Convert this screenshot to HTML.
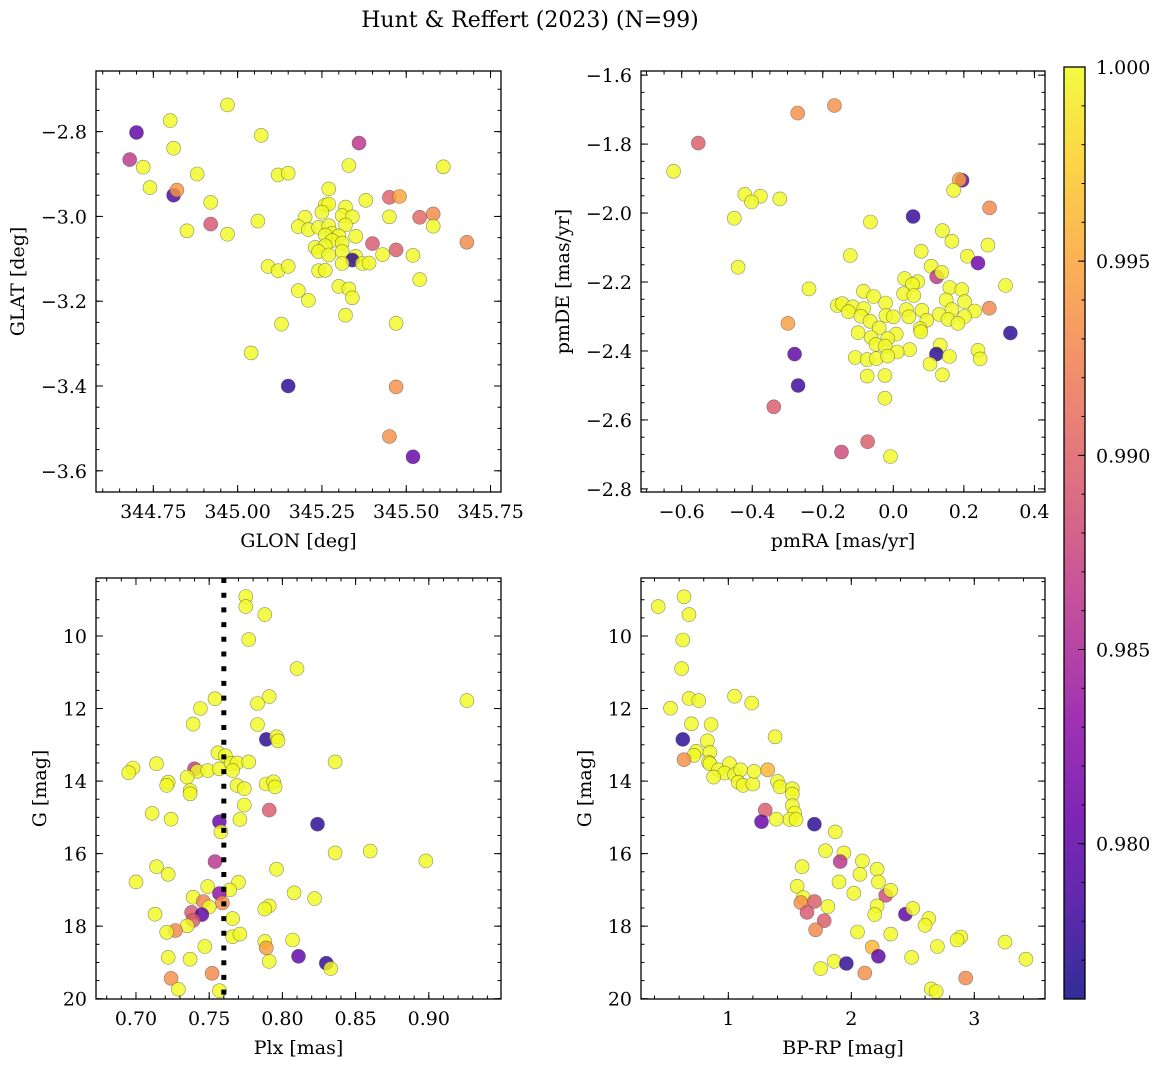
<!DOCTYPE html>
<html><head><meta charset="utf-8"><title>Hunt & Reffert (2023)</title>
<style>
html,body{margin:0;padding:0;background:#fff;}
svg{display:block;font-family:"DejaVu Serif","Liberation Serif",serif;}
</style></head>
<body>
<svg id="fig" width="1161" height="1067" viewBox="0 0 1161 1067" xmlns="http://www.w3.org/2000/svg">
<rect width="1161" height="1067" fill="#fff"/>
<text x="530" y="27" font-size="22" text-anchor="middle" fill="#000">Hunt &amp; Reffert (2023) (N=99)</text>
</svg>
<script>
// ---------- Data ----------
const glon=[344.97,344.80,344.70,345.07,345.36,344.81,344.68,344.72,345.33,345.61,344.88,345.12,345.15,344.74,344.81,344.82,345.27,345.45,345.48,345.38,344.92,345.26,345.27,345.32,345.25,345.20,345.31,345.34,345.45,345.54,345.58,345.06,344.92,345.18,345.21,345.24,345.27,345.32,345.58,344.85,344.97,345.28,345.26,345.30,345.35,345.28,345.31,345.40,345.68,345.23,345.26,345.24,345.27,345.31,345.47,345.43,345.52,345.35,345.34,345.37,345.39,345.31,345.09,345.12,345.15,345.24,345.26,345.54,345.30,345.33,345.18,345.34,345.21,345.32,345.47,345.13,345.04,345.15,345.47,345.45,345.52];
const glat=[-2.737,-2.774,-2.802,-2.809,-2.827,-2.839,-2.866,-2.884,-2.880,-2.883,-2.900,-2.902,-2.898,-2.932,-2.950,-2.938,-2.935,-2.955,-2.953,-2.962,-2.967,-2.973,-2.971,-2.978,-2.990,-3.002,-2.998,-3.001,-3.001,-3.002,-2.994,-3.011,-3.018,-3.024,-3.031,-3.026,-3.022,-3.020,-3.023,-3.034,-3.042,-3.040,-3.044,-3.046,-3.047,-3.057,-3.063,-3.064,-3.061,-3.073,-3.069,-3.083,-3.091,-3.083,-3.079,-3.090,-3.092,-3.094,-3.103,-3.111,-3.110,-3.111,-3.118,-3.128,-3.118,-3.128,-3.127,-3.149,-3.165,-3.171,-3.175,-3.192,-3.198,-3.233,-3.252,-3.254,-3.322,-3.400,-3.402,-3.519,-3.567];
const probA=[1,1,.980,1,.9862,1,.9865,1,1,1, 1,1,1,1,.9785,.994,1,.990,.995,1, 1,1,1,1,1,1,1,1,1,.9905, .993,1,.989,1,1,1,1,1,1,1, 1,1,1,1,1,1,1,.9893,.993,1, 1,1,1,1,.9897,1,1,1,.9775,1, 1,1,1,1,1,1,1,1,1,1, 1,1,1,1,1,1,1,.9772,.9935,.9935, .9805];

const pmra=[-0.271,-0.167,-0.553,-0.623,0.195,0.187,0.171,0.273,-0.421,-0.377,-0.402,-0.322,-0.451,0.056,-0.065,-0.440,-0.122,0.139,0.166,0.268,0.079,0.210,0.240,0.107,0.123,0.137,0.032,0.069,0.054,0.318,-0.239,0.160,0.194,-0.085,0.029,0.058,-0.056,0.150,0.202,-0.022,-0.159,-0.145,-0.115,0.272,-0.084,-0.127,0.037,0.081,0.166,0.231,0.130,-0.021,-0.092,0.000,0.044,0.202,-0.066,0.095,0.155,0.183,-0.040,0.076,-0.100,0.008,0.078,0.332,-0.063,-0.016,-0.049,-0.023,0.046,0.011,0.133,0.122,0.240,-0.280,-0.108,-0.074,-0.048,-0.016,0.159,0.246,0.104,-0.299,-0.074,-0.024,0.139,-0.270,-0.024,-0.339,-0.073,-0.147,-0.008];
const pmde=[-1.710,-1.688,-1.797,-1.879,-1.905,-1.903,-1.934,-1.985,-1.946,-1.951,-1.968,-1.959,-2.015,-2.010,-2.026,-2.157,-2.123,-2.051,-2.082,-2.093,-2.111,-2.125,-2.145,-2.154,-2.185,-2.172,-2.190,-2.199,-2.207,-2.210,-2.220,-2.216,-2.222,-2.227,-2.234,-2.239,-2.242,-2.252,-2.257,-2.261,-2.268,-2.263,-2.272,-2.276,-2.277,-2.286,-2.280,-2.282,-2.280,-2.284,-2.294,-2.297,-2.299,-2.301,-2.301,-2.300,-2.314,-2.311,-2.308,-2.320,-2.333,-2.335,-2.347,-2.351,-2.344,-2.348,-2.361,-2.364,-2.381,-2.386,-2.396,-2.403,-2.383,-2.409,-2.398,-2.409,-2.419,-2.425,-2.422,-2.415,-2.416,-2.423,-2.438,-2.320,-2.473,-2.471,-2.469,-2.500,-2.537,-2.562,-2.663,-2.693,-2.706];
const probB=[.9935,.9935,.9897,1,.9805,.995,1,.993,1,1, 1,1,1,.9775,1,1,1,1,1,1, 1,1,.981,1,.9865,1,1,1,1,1, 1,1,1,1,1,1,1,1,1,1, 1,1,1,.993,1,1,1,1,1,1, 1,1,1,1,1,1,1,1,1,1, 1,1,1,1,1,.9772,1,1,1,1, 1,1,1,.9772,1,.98,1,1,1,1, 1,1,1,.9945,1,1,1,.978,1,.9895, .9897,.988,1];

const plx=[0.775,0.775,0.788,0.777,0.810,0.926,0.754,0.791,0.783,0.744,0.739,0.783,0.789,0.796,0.797,0.756,0.761,0.714,0.698,0.695,0.740,0.742,0.749,0.757,0.765,0.769,0.766,0.777,0.836,0.735,0.722,0.721,0.737,0.737,0.789,0.794,0.795,0.769,0.774,0.774,0.771,0.791,0.711,0.724,0.757,0.758,0.824,0.836,0.860,0.898,0.754,0.714,0.722,0.796,0.700,0.770,0.749,0.764,0.757,0.808,0.739,0.746,0.759,0.822,0.750,0.791,0.788,0.713,0.738,0.745,0.739,0.766,0.735,0.727,0.721,0.766,0.771,0.807,0.788,0.789,0.747,0.722,0.737,0.791,0.811,0.830,0.833,0.724,0.752,0.729,0.757];
const gmagC=[8.91,9.19,9.41,10.10,10.90,11.78,11.73,11.67,11.86,12.00,12.43,12.44,12.85,12.78,12.89,13.22,13.30,13.52,13.64,13.77,13.66,13.73,13.71,13.66,13.51,13.50,13.71,13.47,13.47,13.89,14.03,14.12,14.26,14.35,14.08,14.02,14.16,14.12,14.21,14.66,15.06,14.80,14.89,15.05,15.12,15.40,15.19,15.98,15.93,16.20,16.22,16.36,16.57,16.43,16.78,16.79,16.91,17.00,17.10,17.08,17.20,17.32,17.36,17.24,17.47,17.44,17.53,17.67,17.62,17.68,17.84,17.79,17.99,18.12,18.17,18.29,18.22,18.38,18.42,18.60,18.56,18.86,18.91,18.97,18.83,19.02,19.17,19.44,19.30,19.74,19.78];
const probC=[1,1,1,1,1,1,1,1,1,1, 1,1,.9772,1,1,1,1,1,1,1, .9868,1,1,1,1,1,1,1,1,1, 1,1,1,1,1,1,1,1,1,1, 1,.9895,1,1,.9805,1,.9772,1,1,1, .9862,1,1,1,1,1,1,1,.983,1, 1,.9925,.9935,1,1,1,1,1,.9893,.98, .9895,1,1,.993,1,1,1,1,1,.9945, 1,1,1,1,.98,.9775,1,.9935,.993,1,1];
const plxCut=[0.760];

const bprp=[0.43,0.64,0.68,0.63,0.62,0.53,0.68,0.76,1.05,1.19,0.70,0.86,1.38,0.63,0.83,0.74,0.72,0.85,0.64,0.84,0.85,0.92,1.01,0.97,0.88,1.05,1.10,1.08,1.12,1.20,1.21,1.32,1.40,1.42,1.52,1.52,1.52,1.54,1.50,1.55,1.39,1.30,1.27,1.70,1.87,1.79,1.94,1.91,1.60,2.09,2.07,2.21,1.90,2.22,1.56,2.02,2.28,2.32,1.61,1.59,1.70,1.81,1.64,2.21,2.19,2.44,2.50,1.78,2.63,2.60,1.71,2.05,2.32,2.89,2.86,2.70,3.25,2.17,2.22,2.49,3.42,1.86,1.96,1.75,2.11,2.93,2.65,2.69];
const gmagD=[9.19,8.92,9.41,10.11,10.90,11.99,11.72,11.78,11.66,11.85,12.42,12.44,12.78,12.85,12.89,13.18,13.29,13.21,13.41,13.48,13.52,13.69,13.52,13.78,13.89,13.82,13.69,14.03,14.12,14.08,13.73,13.69,14.01,14.16,14.21,14.36,14.68,14.88,15.06,15.06,15.05,14.80,15.12,15.19,15.40,15.92,15.98,16.22,16.36,16.20,16.57,16.43,16.78,16.78,16.90,17.09,17.15,17.01,17.21,17.35,17.32,17.46,17.62,17.44,17.68,17.67,17.51,17.85,17.79,17.98,18.10,18.16,18.22,18.30,18.38,18.56,18.44,18.58,18.83,18.86,18.91,18.97,19.03,19.17,19.29,19.43,19.73,19.80];
const probD=[1,1,1,1,1,1,1,1,1,1, 1,1,1,.9772,1,1,1,1,.9935,1, 1,1,1,1,1,1,1,1,1,1, 1,.996,1,1,1,1,1,1,1,1, 1,.9895,.9805,.9772,1,1,1,.9862,1,1, 1,1,1,1,1,1,.988,1,1,.9935, .9897,1,.9893,1,1,.98,1,.9895,1,1, .993,1,1,1,1,1,1,.996,.98,1, 1,1,.9775,1,.9935,.993,1,1];

const cbTicks=[1.000,0.995,0.990,0.985,0.980];
const cbTickLabels=["1.000","0.995","0.990","0.985","0.980"];
const VMIN=0.9760, VMAX=1.0;

// ---------- Helpers ----------
const NS="http://www.w3.org/2000/svg";
const svg=document.getElementById('fig');
function el(tag,attrs,parent){const e=document.createElementNS(NS,tag);for(const k in attrs)e.setAttribute(k,attrs[k]);(parent||svg).appendChild(e);return e;}
const plasma=[[13,8,135],[65,4,157],[106,0,168],[143,13,164],[177,42,144],[204,71,120],[225,100,98],[242,132,75],[252,166,54],[252,206,37],[240,249,33]];
function cmap(t){t=Math.max(0,Math.min(1,t));const s=t*10,i=Math.min(9,Math.floor(s)),f=s-i;const a=plasma[i],b=plasma[i+1];return 'rgb('+a.map((v,k)=>Math.round(v+(b[k]-v)*f)).join(',')+')';}
function colorOf(p){return cmap((p-VMIN)/(VMAX-VMIN));}

function panel(cfg){
  const g=el('g',{});
  
  
  const X=v=>cfg.px0+(v-cfg.xmin)/(cfg.xmax-cfg.xmin)*(cfg.px1-cfg.px0);
  const Y=v=>cfg.py0+(v-cfg.ytop)/(cfg.ybot-cfg.ytop)*(cfg.py1-cfg.py0);
  const pts=el('g',{},g);
  
  
  for(let i=0;i<cfg.xs.length;i++){
    const c=el('circle',{cx:X(cfg.xs[i]).toFixed(1),cy:Y(cfg.ys[i]).toFixed(1),r:7,fill:colorOf(cfg.ps[i]),'fill-opacity':0.82,stroke:'#444','stroke-opacity':0.6,'stroke-width':0.6},pts);
    
    
  }
  if(cfg.extra)cfg.extra(g,X,Y);
  const tk=el('g',{stroke:'#000','stroke-width':1},g);
  function rng(a,b,s){const o=[];const n=Math.round((b-a)/s);for(let i=0;i<=n;i++)o.push(a+i*s);return o;}
  const xlo=Math.min(cfg.xmin,cfg.xmax),xhi=Math.max(cfg.xmin,cfg.xmax);
  rng(Math.ceil(xlo/cfg.xminor-1e-6)*cfg.xminor,xhi,cfg.xminor).forEach(v=>{if(v<xlo||v>xhi)return;const x=X(v);
    el('line',{x1:x,x2:x,y1:cfg.py1,y2:cfg.py1-3.5},tk);el('line',{x1:x,x2:x,y1:cfg.py0,y2:cfg.py0+3.5},tk);});
  const ylo=Math.min(cfg.ytop,cfg.ybot),yhi=Math.max(cfg.ytop,cfg.ybot);
  rng(Math.ceil(ylo/cfg.yminor-1e-6)*cfg.yminor,yhi,cfg.yminor).forEach(v=>{if(v<ylo||v>yhi)return;const y=Y(v);
    el('line',{x1:cfg.px0,x2:cfg.px0+3.5,y1:y,y2:y},tk);el('line',{x1:cfg.px1,x2:cfg.px1-3.5,y1:y,y2:y},tk);});
  cfg.xticks.forEach((v,i)=>{const x=X(v);
    el('line',{x1:x,x2:x,y1:cfg.py1,y2:cfg.py1-7},tk);el('line',{x1:x,x2:x,y1:cfg.py0,y2:cfg.py0+7},tk);
    const t=el('text',{x:x,y:cfg.py1+26,'font-size':19,'text-anchor':'middle',fill:'#000',stroke:'none'},g);t.textContent=cfg.xlabels[i];
    
    });
  cfg.yticks.forEach((v,i)=>{const y=Y(v);
    el('line',{x1:cfg.px0,x2:cfg.px0+7,y1:y,y2:y},tk);el('line',{x1:cfg.px1,x2:cfg.px1-7,y1:y,y2:y},tk);
    const t=el('text',{x:cfg.px0-9,y:y+7,'font-size':19,'text-anchor':'end',fill:'#000',stroke:'none'},g);t.textContent=cfg.ylabels[i];
    
    });
  el('rect',{x:cfg.px0,y:cfg.py0,width:cfg.px1-cfg.px0,height:cfg.py1-cfg.py0,fill:'none',stroke:'#000','stroke-width':1.3},g);
  const xl=el('text',{x:(cfg.px0+cfg.px1)/2,y:cfg.py1+55,'font-size':19,'text-anchor':'middle',fill:'#000'},g);xl.textContent=cfg.xtitle;
  
  
  const yx=cfg.ytitleX, yy=(cfg.py0+cfg.py1)/2;
  const yl=el('text',{x:yx,y:yy,'font-size':19,'text-anchor':'middle',fill:'#000',transform:'rotate(-90 '+yx+' '+yy+')'},g);yl.textContent=cfg.ytitle;
  
  
}

panel({name:'glon-glat-panel',px0:96,px1:501,py0:71,py1:492,xmin:344.580,xmax:345.781,ytop:-2.657,ybot:-3.650,
  xs:glon,ys:glat,ps:probA,xminor:0.05,yminor:0.05,
  xticks:[344.75,345.00,345.25,345.50,345.75],xlabels:['344.75','345.00','345.25','345.50','345.75'],
  yticks:[-2.8,-3.0,-3.2,-3.4,-3.6],ylabels:['\u22122.8','\u22123.0','\u22123.2','\u22123.4','\u22123.6'],
  xtitle:'GLON [deg]',ytitle:'GLAT [deg]',ytitleX:24});

panel({name:'pm-panel',px0:641,px1:1045,py0:71,py1:492,xmin:-0.7154,xmax:0.430,ytop:-1.588,ybot:-2.809,
  xs:pmra,ys:pmde,ps:probB,xminor:0.05,yminor:0.05,
  xticks:[-0.6,-0.4,-0.2,0.0,0.2,0.4],xlabels:['\u22120.6','\u22120.4','\u22120.2','0.0','0.2','0.4'],
  yticks:[-1.6,-1.8,-2.0,-2.2,-2.4,-2.6,-2.8],ylabels:['\u22121.6','\u22121.8','\u22122.0','\u22122.2','\u22122.4','\u22122.6','\u22122.8'],
  xtitle:'pmRA [mas/yr]',ytitle:'pmDE [mas/yr]',ytitleX:569});

panel({name:'plx-g-panel',px0:96,px1:501,py0:578,py1:999,xmin:0.6727,xmax:0.9493,ytop:8.401,ybot:20.008,
  xs:plx,ys:gmagC,ps:probC,xminor:0.01,yminor:0.5,
  xticks:[0.70,0.75,0.80,0.85,0.90],xlabels:['0.70','0.75','0.80','0.85','0.90'],
  yticks:[10,12,14,16,18,20],ylabels:['10','12','14','16','18','20'],
  xtitle:'Plx [mas]',ytitle:'G [mag]',ytitleX:46,
  extra:(g,X,Y)=>{const l=el('line',{x1:X(plxCut[0]),x2:X(plxCut[0]),y1:Y(8.401),y2:Y(20.008),stroke:'#000','stroke-width':5,'stroke-dasharray':'5 9.7'},g);
    
    }});

panel({name:'cmd-panel',px0:641,px1:1045,py0:578,py1:999,xmin:0.290,xmax:3.575,ytop:8.401,ybot:20.008,
  xs:bprp,ys:gmagD,ps:probD,xminor:0.2,yminor:0.5,
  xticks:[1,2,3],xlabels:['1','2','3'],
  yticks:[10,12,14,16,18,20],ylabels:['10','12','14','16','18','20'],
  xtitle:'BP-RP [mag]',ytitle:'G [mag]',ytitleX:591});

// ---------- Colorbar ----------
(function(){
  const cx0=1064,cx1=1085,cy0=67,cy1=999;
  const defs=el('defs',{});
  const lg=el('linearGradient',{id:'cbgrad',x1:0,y1:1,x2:0,y2:0},defs);
  for(let i=0;i<=20;i++){el('stop',{offset:(i/20),'stop-color':cmap(i/20),'stop-opacity':0.85},lg);}
  const cb=el('g',{});
  
  
  el('rect',{x:cx0,y:cy0,width:cx1-cx0,height:cy1-cy0,fill:'url(#cbgrad)',stroke:'#000','stroke-width':1.3},cb);
  const Yc=v=>cy1-(v-VMIN)/(VMAX-VMIN)*(cy1-cy0);
  for(let k=0;k<=24;k++){const v=0.976+k*0.001;if(v<VMIN||v>VMAX+1e-9)continue;const y=Yc(v);
    el('line',{x1:cx1,x2:cx1-3.5,y1:y,y2:y,stroke:'#000','stroke-width':1},cb);}
  cbTicks.forEach((v,i)=>{const y=Yc(v);
    el('line',{x1:cx1,x2:cx1-7,y1:y,y2:y,stroke:'#000','stroke-width':1},cb);
    const t=el('text',{x:cx1+11,y:y+7,'font-size':19,fill:'#000'},cb);t.textContent=cbTickLabels[i];
    
    });
})();
</script>
</body></html>
